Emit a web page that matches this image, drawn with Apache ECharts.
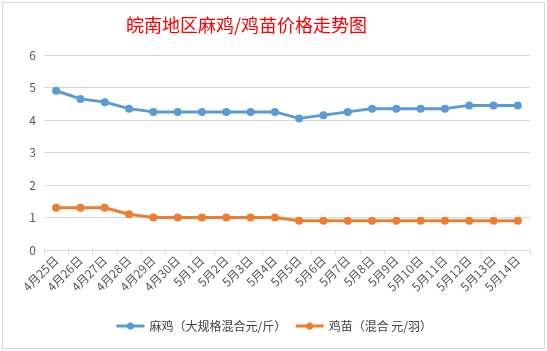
<!DOCTYPE html>
<html lang="zh">
<head>
<meta charset="UTF-8">
<title>皖南地区麻鸡/鸡苗价格走势图</title>
<style>
    * { margin: 0; padding: 0; }
    body { width: 547px; height: 351px; background: #fff; overflow: hidden; }
    .frame {
        position: absolute; left: 2px; top: 2px;
        width: 541px; height: 345px;
        border: 1px solid #d9d9d9;
        background: #fff;
    }
    #chart { position: absolute; left: 0; top: 0; width: 547px; height: 351px; }
</style>
</head>
<body>
<div class="frame"></div>
<div id="chart"></div>
<script src="https://cdn.jsdelivr.net/npm/echarts@6/dist/echarts.min.js"></script>
<script>
var days = ['4月25日', '4月26日', '4月27日', '4月28日', '4月29日', '4月30日',
    '5月1日', '5月2日', '5月3日', '5月4日', '5月5日', '5月6日', '5月7日',
    '5月8日', '5月9日', '5月10日', '5月11日', '5月12日', '5月13日', '5月14日'];
var majiPrice = [4.9, 4.65, 4.55, 4.35, 4.25, 4.25, 4.25, 4.25, 4.25, 4.25,
    4.05, 4.15, 4.25, 4.35, 4.35, 4.35, 4.35, 4.45, 4.45, 4.45];
var jimiaoPrice = [1.3, 1.3, 1.3, 1.1, 1.0, 1.0, 1.0, 1.0, 1.0, 1.0,
    0.9, 0.9, 0.9, 0.9, 0.9, 0.9, 0.9, 0.9, 0.9, 0.9];
var seriesNames = ['麻鸡（大规格混合元/斤）', '鸡苗（混合 元/羽）'];

var font = '"Noto Sans CJK SC", "Microsoft YaHei", sans-serif';
var myChart = echarts.init(document.getElementById('chart'), null, { renderer: 'canvas' });

var option = {
    animation: false,
    backgroundColor: 'transparent',
    title: {
        text: '皖南地区麻鸡/鸡苗价格走势图',
        left: 121,
        top: 11,
        textStyle: { color: '#ff0000', fontSize: 18, fontWeight: 'normal', fontFamily: font }
    },
    legend: {
        bottom: 14,
        left: 'center',
        itemWidth: 28,
        itemHeight: 9,
        itemGap: 8,
        lineStyle: { width: 3 },
        textStyle: { color: '#404040', fontSize: 12, fontFamily: font },
        data: seriesNames
    },
    grid: { left: 44, right: 17, top: 55, bottom: 101 },
    xAxis: {
        type: 'category',
        data: days,
        axisLine: { lineStyle: { color: '#d9d9d9' } },
        axisTick: { show: true, length: 5, lineStyle: { color: '#d9d9d9' } },
        axisLabel: { rotate: 45, interval: 0, color: '#595959', fontSize: 12, fontFamily: font, margin: 8 }
    },
    yAxis: {
        type: 'value',
        min: 0,
        max: 6,
        interval: 1,
        axisLine: { show: false },
        axisTick: { show: false },
        axisLabel: { color: '#595959', fontSize: 12, fontFamily: font, margin: 8 },
        splitLine: { lineStyle: { color: '#d9d9d9' } }
    },
    series: [{
        name: seriesNames[0],
        type: 'line',
        data: majiPrice,
        symbol: 'circle',
        symbolSize: 8,
        lineStyle: { width: 3, color: '#5b9bd5' },
        itemStyle: { color: '#5b9bd5' }
    }, {
        name: seriesNames[1],
        type: 'line',
        data: jimiaoPrice,
        symbol: 'circle',
        symbolSize: 8,
        lineStyle: { width: 3, color: '#ed7d31' },
        itemStyle: { color: '#ed7d31' }
    }]
};
myChart.setOption(option);
</script>
</body>
</html>
